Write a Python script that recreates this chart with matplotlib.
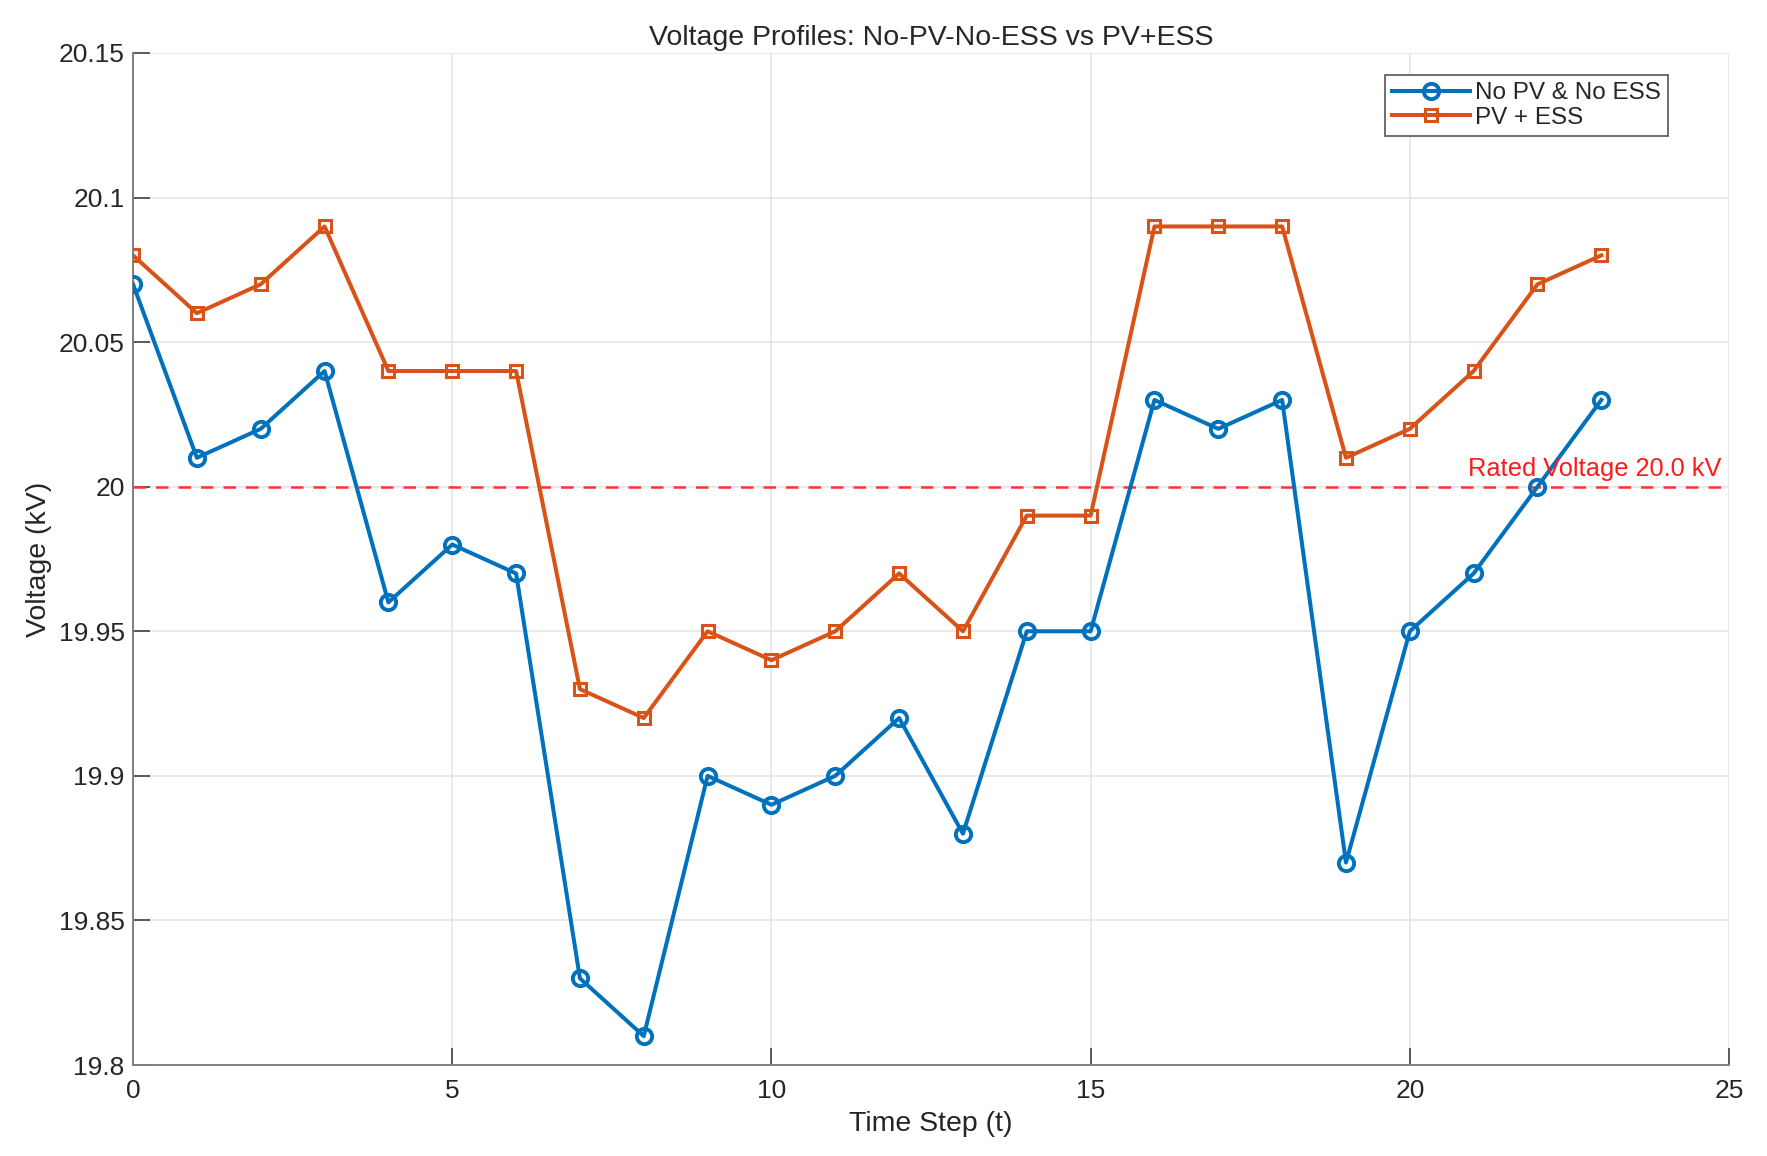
import matplotlib
matplotlib.use('Agg')
import matplotlib.pyplot as plt

# voltage profiles per time step (kV)
timeSteps = list(range(24))
noPvNoEss = [20.07, 20.01, 20.02, 20.04, 19.96, 19.98, 19.97, 19.83, 19.81, 19.90, 19.89, 19.90,
             19.92, 19.88, 19.95, 19.95, 20.03, 20.02, 20.03, 19.87, 19.95, 19.97, 20.00, 20.03]
pvEss = [20.08, 20.06, 20.07, 20.09, 20.04, 20.04, 20.04, 19.93, 19.92, 19.95, 19.94, 19.95,
         19.97, 19.95, 19.99, 19.99, 20.09, 20.09, 20.09, 20.01, 20.02, 20.04, 20.07, 20.08]
ratedVoltage = 20.0
yTicks = [19.8, 19.85, 19.9, 19.95, 20, 20.05, 20.1, 20.15]
yTickLabels = ['19.8', '19.85', '19.9', '19.95', '20', '20.05', '20.1', '20.15']
xTicks = [0, 5, 10, 15, 20, 25]

plt.rcParams['font.family'] = ['Liberation Sans', 'DejaVu Sans']

fig = plt.figure(figsize=(17.67, 11.56), dpi=100)
ax = fig.add_axes([0.0753, 0.0787, 0.9032, 0.8755])

ax.plot(timeSteps, noPvNoEss, '-o', color='#0072BD', lw=2.9, ms=11, mew=2.8,
        mfc='none', label='No PV & No ESS', zorder=3)
ax.plot(timeSteps, pvEss, '-s', color='#D95319', lw=2.9, ms=8.5, mew=2.2,
        mfc='none', label='PV + ESS', zorder=3)
ax.axhline(ratedVoltage, color='#FF3333', ls=(0, (5, 4)), lw=1.8, zorder=2)
ax.text(24.88, ratedVoltage + 0.002, 'Rated Voltage 20.0 kV', color='#FF1A1A',
        fontsize=18.3, ha='right', va='bottom')

ax.set_xlim(0, 25)
ax.set_ylim(19.8, 20.15)
ax.set_xticks(xTicks)
ax.set_yticks(yTicks)
ax.set_yticklabels(yTickLabels)
ax.grid(True, color='#E3E3E3', lw=1.1)
ax.set_axisbelow(True)
for s in ['top', 'right']:
    ax.spines[s].set_visible(False)
for s in ['left', 'bottom']:
    ax.spines[s].set_color('#808080')
    ax.spines[s].set_linewidth(1.4)
ax.tick_params(direction='in', length=12, width=1.2, color='#404040',
               labelsize=19, labelcolor='#262626')
ax.tick_params(axis='x', pad=10)
ax.tick_params(axis='y', pad=6)

ax.set_title('Voltage Profiles: No-PV-No-ESS vs PV+ESS', fontsize=20.5, color='#262626', pad=6)
ax.set_xlabel('Time Step (t)', fontsize=20.5, color='#262626', labelpad=6)
ax.set_ylabel('Voltage (kV)', fontsize=20.5, color='#262626', labelpad=5)

leg = ax.legend(loc='upper right', bbox_to_anchor=(1668 / 1767, 1 - 75 / 1156),
                bbox_transform=fig.transFigure, borderaxespad=0, fontsize=17.5,
                fancybox=False, framealpha=1, edgecolor='#555555',
                handlelength=3.2, handletextpad=0.2, labelspacing=0.1,
                borderpad=0.3)
leg.get_frame().set_linewidth(1.2)
for t in leg.get_texts():
    t.set_color('#262626')

fig.savefig('out.png', dpi=100)
